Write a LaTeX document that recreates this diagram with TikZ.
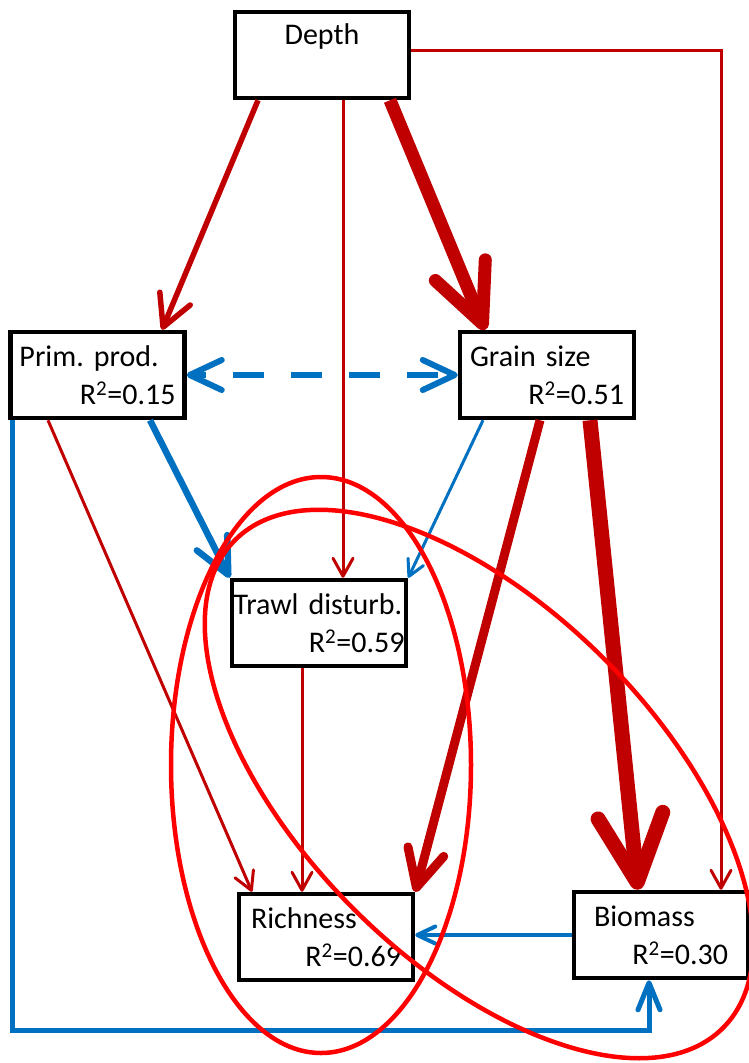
\documentclass[tikz,border=0pt]{standalone}
\usepackage{fontspec}
\setmainfont{Carlito}
\usetikzlibrary{arrows.meta}

\definecolor{pathred}{RGB}{192,0,0}
\definecolor{pathblue}{RGB}{0,112,192}
\definecolor{ringred}{RGB}{255,0,0}

\newcommand{\rsq}[2]{\\\mbox{}\hfill R\textsuperscript{2}=#1\hspace*{#2}}

\begin{document}
\frenchspacing
\begin{tikzpicture}[x=1pt,y=-1pt,
    var/.style={draw,line width=4.5pt,fill=white,minimum width=174pt,
      minimum height=86pt,inner ysep=0pt,align=left,
      font=\fontsize{30}{38}\selectfont},
    pos/.style={draw=pathred,line width=#1},
    neg/.style={draw=pathblue,line width=#1},
    barb/.style 2 args={-{Straight Barb[length=#1,width=#2,round]}},
    ring/.style={draw=ringred,line width=4.5pt}]
            {
    \useasboundingbox (0,0) rectangle (749,1063);

    \node[var,align=center,text height=22pt,text depth=44pt] (depth) at (322,55) {Depth};
    \node[var,text width=156pt,inner xsep=9pt] (prim) at (97.5,375) {Prim. prod.\rsq{0.15}{7.5pt}};
    \node[var,text width=154pt,inner xsep=10pt] (grain) at (547,375) {Grain size\rsq{0.51}{4pt}};
    \node[var,text width=171pt,inner xsep=1.5pt] (trawl) at (319,623) {Trawl disturb.\rsq{0.59}{15.5pt}};
    \node[var,text width=150pt,inner xsep=12pt] (richness) at (326,937) {Richness\rsq{0.69}{5pt}};
    \node[var,text width=134pt,inner xsep=20pt] (biomass) at (661,935) {Biomass\rsq{0.30}{-5pt}};

    \draw[neg=6pt,dash pattern=on 31pt off 27pt,dash phase=18pt,
      {Straight Barb[length=32pt,width=30pt,round]}-{Straight Barb[length=32pt,width=30pt,round]}]
      (prim.east) -- (grain.west);

    \draw[pos=5.5pt,barb={31pt}{33pt}] ([xshift=-64pt]depth.south) -- ([xshift=64.5pt]prim.north);
    \draw[pos=3pt,barb={18pt}{20pt}] ([xshift=21pt]depth.south) -- ([xshift=21pt]depth.south |- trawl.north);
    \draw[pos=13pt,barb={58pt}{54pt}] ([xshift=68pt]depth.south) -- ([xshift=-62pt]grain.north);
    \draw[pos=3pt,barb={18pt}{20pt}] ([yshift=5pt]depth.east) -| ([xshift=60pt]biomass.north);

    \draw[neg=6.5pt,barb={36pt}{34pt}] ([xshift=52.5pt]prim.south) -- (trawl.north west);
    \draw[pos=3pt,barb={18pt}{20pt}] ([xshift=-49.5pt]prim.south) -- ([xshift=-74pt]richness.north);
    \draw[neg=5pt,barb={27pt}{22pt}] ([xshift=4pt]prim.south west)
      |- ([xshift=-12pt,yshift=-50pt]biomass.south) -- ([xshift=-12pt]biomass.south);

    \draw[neg=3pt,barb={16pt}{17pt}] ([xshift=-64pt]grain.south) -- (trawl.north east);
    \draw[pos=9pt,barb={37pt}{37pt}] ([xshift=-7pt]grain.south) -- (richness.north east);
    \draw[pos=15pt,barb={67pt}{65pt}] ([xshift=43pt]grain.south) -- ([xshift=-23pt]biomass.north);

    \draw[pos=3pt,barb={18pt}{20pt}] ([xshift=-17pt]trawl.south) -- ([xshift=-17pt]trawl.south |- richness.north);
    \draw[neg=4pt,barb={18pt}{17pt}] (biomass.west) -- (biomass.west -| richness.east);

    \draw[ring] (321,765) ellipse [x radius=150, y radius=288];
    \draw[ring,rotate around={-45:(479,784)}] (479,784) ellipse [x radius=345, y radius=177];
}
\end{tikzpicture}
\end{document}
